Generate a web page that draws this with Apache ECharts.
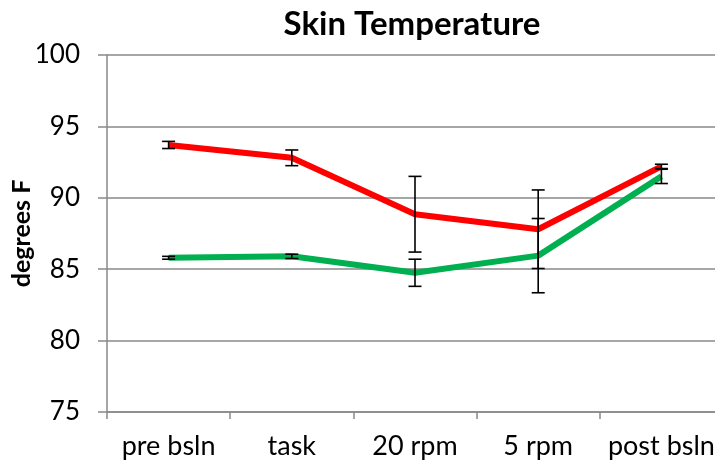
<!DOCTYPE html>
<html>
<head>
<meta charset="utf-8">
<script src="https://cdn.jsdelivr.net/npm/echarts@6/dist/echarts.min.js"></script>
<style>html,body{margin:0;padding:0;background:#fff}#c{width:715px;height:468px}</style>
</head>
<body>
<div id="c"></div>
<script>
var categories = ['pre bsln', 'task', '20 rpm', '5 rpm', 'post bsln'];
var redValues = [93.7, 92.8, 88.85, 87.8, 92.2];
var redErrors = [0.25, 0.55, 2.65, 2.75, 0.15];
var greenValues = [85.8, 85.9, 84.75, 85.95, 91.5];
var greenErrors = [0.1, 0.15, 0.95, 2.6, 0.5];
var yTicks = [75, 80, 85, 90, 95, 100];

function errData(vals, errs) {
  return vals.map(function (v, i) { return [i, v - errs[i], v + errs[i]]; });
}
function errRender(params, api) {
  var x = api.value(0);
  var lo = api.coord([x, api.value(1)]);
  var hi = api.coord([x, api.value(2)]);
  var cw = 6.5;
  var st = { stroke: '#000', lineWidth: 1.6 };
  return {
    type: 'group',
    children: [
      { type: 'line', shape: { x1: lo[0], y1: lo[1], x2: hi[0], y2: hi[1] }, style: st },
      { type: 'line', shape: { x1: lo[0] - cw, y1: lo[1], x2: lo[0] + cw, y2: lo[1] }, style: st },
      { type: 'line', shape: { x1: hi[0] - cw, y1: hi[1], x2: hi[0] + cw, y2: hi[1] }, style: st }
    ]
  };
}
var FONT = 'Lato';
var chart = echarts.init(document.getElementById('c'), null, { renderer: 'canvas' });
chart.setOption({
  animation: false,
  backgroundColor: '#fff',
  title: {
    text: 'Skin Temperature', left: 407, top: 3, textAlign: 'center',
    textStyle: { fontFamily: FONT, fontWeight: 'bold', fontSize: 33, color: '#000' }
  },
  grid: { left: 107, top: 55, width: 616, height: 357, containLabel: false, outerBoundsMode: 'none' },
  xAxis: {
    type: 'category', data: categories, boundaryGap: true,
    axisLine: { lineStyle: { color: '#898989', width: 1.5 } },
    axisTick: { show: true, length: 7, alignWithLabel: false, lineStyle: { color: '#898989', width: 1.5 } },
    axisLabel: { fontFamily: FONT, fontSize: 27, color: '#000', margin: 21, interval: 0 },
    splitLine: { show: false }
  },
  yAxis: {
    type: 'value', min: yTicks[0], max: yTicks[yTicks.length - 1], interval: 5,
    name: 'degrees F', nameLocation: 'middle', nameGap: 73, nameRotate: 90, nameMoveOverlap: false,
    nameTextStyle: { fontFamily: FONT, fontWeight: 'bold', fontSize: 25, color: '#000' },
    axisLine: { show: true, lineStyle: { color: '#898989', width: 1.5 } },
    axisTick: { show: true, length: 9, lineStyle: { color: '#898989', width: 1.5 } },
    axisLabel: { fontFamily: FONT, fontSize: 26, color: '#000', margin: 27 },
    splitLine: { show: true, lineStyle: { color: '#898989', width: 1.5 } }
  },
  series: [
    { type: 'line', data: redValues, showSymbol: false, symbol: 'none', lineStyle: { color: '#ff0000', width: 6 }, z: 3 },
    { type: 'line', data: greenValues, showSymbol: false, symbol: 'none', lineStyle: { color: '#00b050', width: 6 }, z: 3 },
    { type: 'custom', data: errData(redValues, redErrors), renderItem: errRender, z: 4 },
    { type: 'custom', data: errData(greenValues, greenErrors), renderItem: errRender, z: 4 }
  ]
});
</script>
</body>
</html>
